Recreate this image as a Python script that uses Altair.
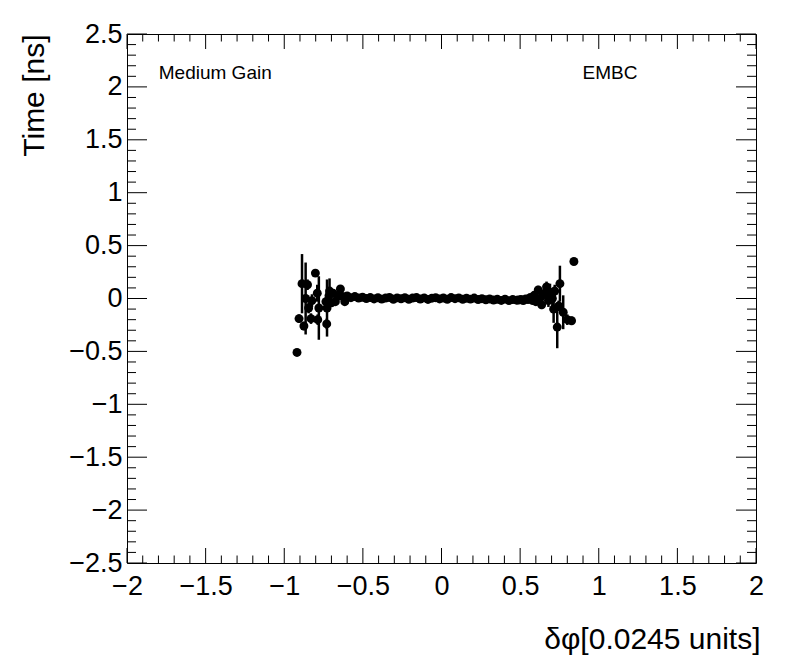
import altair as alt
import pandas as pd

# ---------------- data ----------------
left_x = [-0.919, -0.906, -0.887, -0.875, -0.864, -0.852, -0.845, -0.830, -0.824, -0.802,
          -0.780, -0.787, -0.790, -0.730, -0.728, -0.712, -0.735, -0.715, -0.700, -0.690,
          -0.675, -0.660, -0.643, -0.630, -0.615]
left_y = [-0.51, -0.19, 0.14, -0.26, 0.00, 0.13, -0.09, -0.19, -0.02, 0.24,
          -0.09, -0.20, 0.05, -0.24, -0.09, 0.07, -0.03, 0.03, -0.04, 0.05,
          -0.03, 0.02, 0.09, 0.02, -0.03]
left_e = [0.02, 0.04, 0.28, 0.04, 0.34, 0.05, 0.05, 0.05, 0.06, 0.03,
          0.30, 0.05, 0.08, 0.05, 0.27, 0.12, 0.05, 0.05, 0.04, 0.04,
          0.03, 0.03, 0.03, 0.02, 0.02]

center_x = [-0.600, -0.576, -0.551, -0.527, -0.502, -0.478, -0.453, -0.429, -0.404, -0.380,
            -0.355, -0.331, -0.306, -0.282, -0.257, -0.233, -0.208, -0.184, -0.159, -0.135,
            -0.110, -0.086, -0.061, -0.037, -0.012, 0.012, 0.037, 0.061, 0.086, 0.110,
            0.135, 0.159, 0.184, 0.208, 0.233, 0.257, 0.282, 0.306, 0.331, 0.355,
            0.380, 0.404, 0.429, 0.453, 0.478]
center_y = [0.025, 0.008, 0.018, 0.004, 0.012, 0.000, 0.009, -0.004, 0.007, -0.006,
            0.005, 0.010, -0.007, 0.006, -0.003, 0.008, -0.008, 0.004, 0.009, -0.005,
            0.006, -0.009, 0.003, 0.008, -0.004, 0.005, -0.007, 0.009, -0.002, 0.006,
            -0.008, 0.003, -0.006, 0.004, -0.010, -0.002, -0.012, -0.004, -0.015, -0.008,
            -0.018, -0.006, -0.020, -0.010, -0.016]
center_e = [0.015, 0.012, 0.010, 0.009, 0.008, 0.007, 0.006, 0.006, 0.005, 0.005,
            0.005, 0.004, 0.004, 0.004, 0.004, 0.004, 0.004, 0.004, 0.004, 0.004,
            0.004, 0.004, 0.004, 0.004, 0.004, 0.004, 0.004, 0.004, 0.004, 0.004,
            0.004, 0.004, 0.004, 0.004, 0.004, 0.005, 0.005, 0.005, 0.006, 0.006,
            0.007, 0.008, 0.009, 0.010, 0.010]

right_x = [0.490, 0.505, 0.520, 0.535, 0.550, 0.565, 0.580, 0.590, 0.600, 0.615,
           0.625, 0.637, 0.650, 0.668, 0.680, 0.690, 0.705, 0.713, 0.720, 0.736,
           0.745, 0.753, 0.774, 0.800, 0.827, 0.842]
right_y = [-0.015, -0.010, -0.020, -0.005, -0.010, 0.010, -0.020, 0.030, -0.030, 0.080,
           0.000, -0.060, 0.040, 0.110, -0.020, 0.050, 0.000, -0.100, 0.070, -0.270,
           -0.070, 0.140, -0.130, -0.200, -0.210, 0.350]
right_e = [0.010, 0.010, 0.015, 0.015, 0.020, 0.020, 0.020, 0.030, 0.030, 0.040,
           0.040, 0.040, 0.050, 0.050, 0.060, 0.090, 0.100, 0.130, 0.060, 0.200,
           0.050, 0.170, 0.160, 0.050, 0.040, 0.020]

x_major = [-2, -1.5, -1, -0.5, 0, 0.5, 1, 1.5, 2]
y_major = [-2.5, -2, -1.5, -1, -0.5, 0, 0.5, 1, 1.5, 2, 2.5]
x_minor = [round(-2 + 0.1 * i, 2) for i in range(41) if i % 5 != 0]
y_minor = [round(-2.5 + 0.1 * i, 2) for i in range(51) if i % 5 != 0]

labels_text = ["Medium Gain", "EMBC"]
labels_x = [-1.798, 0.897]
labels_y = [2.07, 2.07]

x_title = "δφ[0.0245 units]"
y_title = "Time [ns]"

# ---------------- build ----------------
df = pd.DataFrame({
    "x": left_x + center_x + right_x,
    "y": left_y + center_y + right_y,
    "e": left_e + center_e + right_e,
})
df["lo"] = df["y"] - df["e"]
df["hi"] = df["y"] + df["e"]

W, H = 629, 529
FONT = "Liberation Sans"
XD = [-2, 2]
YD = [-2.5, 2.5]

xs = alt.Scale(domain=XD, nice=False, zero=False)
ys = alt.Scale(domain=YD, nice=False, zero=False)

x_axis = alt.Axis(values=x_major, format="~g", ticks=False, tickSize=0, domain=False, grid=False,
                  labelFont=FONT, labelFontSize=27, labelColor="black", labelPadding=31,
                  labelBaseline="alphabetic", labelFlush=False, labelOverlap=False,
                  title=x_title, titleFont=FONT, titleFontSize=30, titleFontWeight="normal",
                  titleColor="black", titleX=W + 4, titleY=85, titleAlign="right",
                  titleBaseline="alphabetic", titleAngle=0)
y_axis = alt.Axis(values=y_major, format="~g", ticks=False, tickSize=0, domain=False, grid=False,
                  labelFont=FONT, labelFontSize=27, labelColor="black", labelPadding=5,
                  labelFlush=False, labelOverlap=False,
                  title=y_title, titleFont=FONT, titleFontSize=30, titleFontWeight="normal",
                  titleColor="black", titleX=-84, titleY=0, titleAlign="right",
                  titleBaseline="alphabetic", titleAngle=270)


def X(field):
    return alt.X(field, scale=xs, axis=x_axis, title=x_title)


def Y(field):
    return alt.Y(field, scale=ys, axis=y_axis, title=y_title)


base = alt.Chart(df)

errbars = base.mark_rule(color="black", strokeWidth=2.5).encode(
    x=X("x:Q"), y=Y("lo:Q"), y2="hi:Q",
)
points = base.mark_circle(color="black", size=80, opacity=1).encode(
    x=X("x:Q"), y=Y("y:Q"),
)

xmaj = alt.Chart(pd.DataFrame({"t": x_major}))
xmin = alt.Chart(pd.DataFrame({"t": x_minor}))
ymaj = alt.Chart(pd.DataFrame({"t": y_major}))
ymin = alt.Chart(pd.DataFrame({"t": y_minor}))

tick_layers = []
for src, L in ((xmaj, 15), (xmin, 7.5)):
    tick_layers.append(src.mark_rule(color="black", strokeWidth=1).encode(
        x=X("t:Q"), y=alt.value(H), y2=alt.value(H - L)))
    tick_layers.append(src.mark_rule(color="black", strokeWidth=1).encode(
        x=X("t:Q"), y=alt.value(0), y2=alt.value(L)))
for src, L in ((ymaj, 20), (ymin, 9)):
    tick_layers.append(src.mark_rule(color="black", strokeWidth=1).encode(
        y=Y("t:Q"), x=alt.value(0), x2=alt.value(L)))
    tick_layers.append(src.mark_rule(color="black", strokeWidth=1).encode(
        y=Y("t:Q"), x=alt.value(W), x2=alt.value(W - L)))

texts = alt.Chart(pd.DataFrame({"label": labels_text, "x": labels_x, "y": labels_y})).mark_text(
    font=FONT, fontSize=19, color="black", align="left", baseline="alphabetic"
).encode(
    x=X("x:Q"), y=Y("y:Q"), text="label:N",
)

chart = alt.layer(errbars, points, texts, *tick_layers).properties(
    width=W, height=H,
    autosize=alt.AutoSizeParams(type="none"),
    padding={"left": 119, "top": 26, "right": 30, "bottom": 110},
    background="white",
).configure_view(stroke="black", strokeWidth=1)

chart.save("out.html", embed_options={"renderer": "svg", "actions": False})
